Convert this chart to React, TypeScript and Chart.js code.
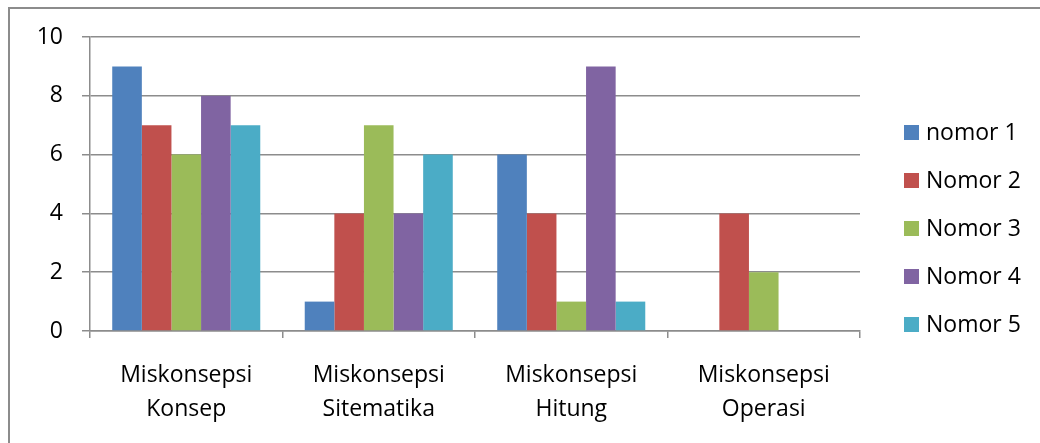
import React, { useEffect, useRef } from "react";
import { Chart, registerables } from "chart.js";

Chart.register(...registerables);

const categories: string[][] = [
  ["Miskonsepsi", "Konsep"],
  ["Miskonsepsi", "Sitematika"],
  ["Miskonsepsi", "Hitung"],
  ["Miskonsepsi", "Operasi"],
];

const seriesNames = ["nomor 1", "Nomor 2", "Nomor 3", "Nomor 4", "Nomor 5"];

const nomor1 = [9, 1, 6, 0];
const nomor2 = [7, 4, 4, 4];
const nomor3 = [6, 7, 1, 2];
const nomor4 = [8, 4, 9, 0];
const nomor5 = [7, 6, 1, 0];

const seriesColors = ["#4F81BD", "#C0504D", "#9BBB59", "#8064A2", "#4BACC6"];

const yTicks = [0, 2, 4, 6, 8, 10];

const FONT = "'Open Sans', 'Noto Sans', sans-serif";
const GRID = "#8c8c8c";

// Legend drawn to the right of the plot: small square swatches with labels.
const sideLegend = {
  id: "sideLegend",
  afterDraw(chart: Chart) {
    const { ctx, chartArea } = chart;
    const boxX = chartArea.right + 44;
    const boxSize = 15;
    const textX = boxX + boxSize + 7;
    const firstY = 132.5;
    const step = 48;
    ctx.save();
    ctx.font = `23px ${FONT}`;
    ctx.textBaseline = "middle";
    ctx.textAlign = "left";
    chart.data.datasets.forEach((ds, i) => {
      const cy = firstY + step * i;
      ctx.fillStyle = ds.backgroundColor as string;
      ctx.fillRect(boxX, cy - boxSize / 2, boxSize, boxSize);
      ctx.fillStyle = "#000";
      ctx.fillText(ds.label as string, textX, cy + 1);
    });
    ctx.restore();
  },
};

export default function App() {
  const canvasRef = useRef<HTMLCanvasElement | null>(null);

  useEffect(() => {
    if (!canvasRef.current) return;
    const values = [nomor1, nomor2, nomor3, nomor4, nomor5];
    const chart = new Chart(canvasRef.current, {
      type: "bar",
      data: {
        labels: categories,
        datasets: seriesNames.map((name, i) => ({
          label: name,
          data: values[i],
          backgroundColor: seriesColors[i],
          borderWidth: 0,
          categoryPercentage: 0.769,
          barPercentage: 1,
        })),
      },
      options: {
        responsive: false,
        animation: false,
        devicePixelRatio: 1,
        layout: { padding: { top: 37, left: 0, right: 180, bottom: 0 } },
        plugins: {
          legend: { display: false },
          tooltip: { enabled: false },
        },
        scales: {
          x: {
            grid: {
              offset: true,
              drawOnChartArea: false,
              drawTicks: true,
              tickLength: 7,
              color: GRID,
              lineWidth: 1.5,
            },
            border: { display: true, color: GRID, width: 1.5 },
            ticks: {
              color: "#000",
              font: { family: FONT, size: 23, lineHeight: 1.46 },
              padding: 21,
              maxRotation: 0,
              autoSkip: false,
            },
            afterFit(scale: any) {
              scale.height = 112;
            },
          },
          y: {
            min: 0,
            max: 10,
            afterBuildTicks(scale: any) {
              scale.ticks = yTicks.map((v) => ({ value: v }));
            },
            grid: {
              color: GRID,
              lineWidth: 1.5,
              drawTicks: true,
              tickLength: 8,
            },
            border: { display: true, color: GRID, width: 1.5 },
            ticks: {
              color: "#000",
              font: { family: FONT, size: 23 },
              padding: 19,
            },
            afterFit(scale: any) {
              scale.width = 90;
            },
          },
        },
      },
      plugins: [sideLegend],
    });
    return () => chart.destroy();
  }, []);

  return (
    <div style={{ position: "fixed", left: 0, top: 0, width: 1040, height: 443, background: "#fff", overflow: "hidden" }}>
      <div
        style={{
          position: "absolute",
          left: 8,
          top: 7,
          width: 1100,
          height: 500,
          borderLeft: "2px solid #8c8c8c",
          borderTop: "2px solid #8c8c8c",
        }}
      />
      <canvas ref={canvasRef} width={1040} height={443} style={{ position: "absolute", left: 0, top: 0 }} />
    </div>
  );
}
